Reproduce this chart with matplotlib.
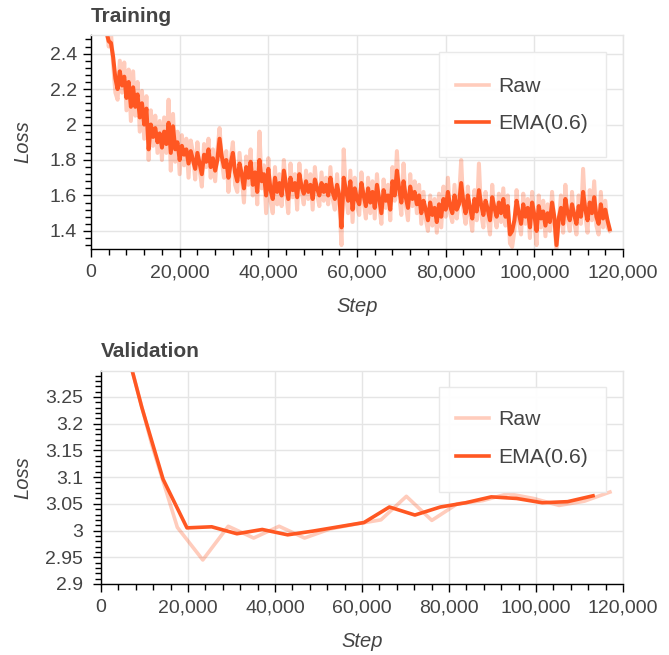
import numpy as np
import matplotlib
matplotlib.use("Agg")
import matplotlib.pyplot as plt
from matplotlib.patches import Rectangle
from matplotlib.ticker import MultipleLocator, FuncFormatter

plt.rcParams["font.family"] = ["Liberation Sans", "DejaVu Sans"]

# training loss, logged every 500 steps starting at step 3000
train_steps = np.arange(3000, 117001, 500)
train_raw = [
    2.62, 2.55, 2.44, 2.52, 2.34, 2.18, 2.14, 2.36, 2.18, 2.35, 2.08, 2.31, 2.02, 2.30, 2.05, 2.24, 1.96, 2.19, 1.92, 2.16,
    1.80, 2.08, 1.88, 2.05, 1.84, 2.02, 1.80, 2.04, 1.84, 2.14, 1.74, 2.06, 1.79, 1.96, 1.72, 1.94, 1.77, 1.92, 1.70, 1.91,
    1.84, 1.69, 1.90, 1.75, 1.65, 1.89, 1.76, 1.92, 1.70, 1.86, 1.68, 1.85, 1.98, 1.80, 1.70, 1.85, 1.62, 1.80, 1.90, 1.66,
    1.62, 1.84, 1.70, 1.56, 1.82, 1.66, 1.86, 1.60, 1.78, 1.55, 1.96, 1.64, 1.77, 1.50, 1.81, 1.57, 1.50, 1.76, 1.55, 1.72,
    1.54, 1.80, 1.62, 1.50, 1.78, 1.59, 1.72, 1.52, 1.78, 1.62, 1.55, 1.74, 1.58, 1.72, 1.52, 1.76, 1.61, 1.54, 1.73, 1.57,
    1.70, 1.55, 1.76, 1.58, 1.52, 1.72, 1.56, 1.32, 1.86, 1.60, 1.50, 1.74, 1.45, 1.70, 1.54, 1.49, 1.73, 1.57, 1.47, 1.70,
    1.50, 1.68, 1.47, 1.72, 1.55, 1.44, 1.69, 1.53, 1.66, 1.46, 1.76, 1.57, 1.85, 1.61, 1.49, 1.78, 1.55, 1.46, 1.72, 1.54,
    1.68, 1.50, 1.66, 1.44, 1.62, 1.47, 1.40, 1.60, 1.43, 1.58, 1.39, 1.61, 1.42, 1.65, 1.48, 1.70, 1.50, 1.45, 1.66, 1.47,
    1.58, 1.80, 1.52, 1.44, 1.65, 1.49, 1.40, 1.63, 1.46, 1.78, 1.50, 1.42, 1.62, 1.47, 1.38, 1.66, 1.49, 1.42, 1.61, 1.45,
    1.64, 1.43, 1.60, 1.33, 1.31, 1.40, 1.63, 1.46, 1.38, 1.61, 1.44, 1.58, 1.36, 1.62, 1.45, 1.32, 1.60, 1.42, 1.57, 1.37,
    1.55, 1.40, 1.62, 1.44, 1.30, 1.45, 1.60, 1.39, 1.66, 1.47, 1.40, 1.62, 1.45, 1.38, 1.60, 1.44, 1.75, 1.49, 1.39, 1.63,
    1.46, 1.68, 1.43, 1.38, 1.62, 1.42, 1.57, 1.42, 1.40,
]
train_ema = [
    2.58, 2.52, 2.47, 2.46, 2.38, 2.26, 2.20, 2.30, 2.22, 2.27, 2.15, 2.24, 2.10, 2.21, 2.10, 2.17, 2.04, 2.12, 2.00, 2.09,
    1.86, 2.00, 1.93, 1.98, 1.90, 1.95, 1.87, 1.96, 1.89, 2.01, 1.84, 1.99, 1.86, 1.90, 1.80, 1.88, 1.83, 1.86, 1.78, 1.85,
    1.80, 1.75, 1.84, 1.78, 1.72, 1.83, 1.79, 1.86, 1.76, 1.81, 1.74, 1.80, 1.92, 1.82, 1.76, 1.80, 1.70, 1.78, 1.84, 1.73,
    1.68, 1.78, 1.72, 1.64, 1.76, 1.70, 1.79, 1.66, 1.73, 1.62, 1.80, 1.68, 1.72, 1.60, 1.75, 1.63, 1.58, 1.70, 1.62, 1.67,
    1.60, 1.74, 1.66, 1.58, 1.70, 1.63, 1.67, 1.59, 1.72, 1.65, 1.61, 1.68, 1.62, 1.66, 1.58, 1.69, 1.64, 1.60, 1.67, 1.62,
    1.66, 1.60, 1.70, 1.62, 1.58, 1.66, 1.60, 1.42, 1.70, 1.63, 1.57, 1.68, 1.52, 1.64, 1.58, 1.55, 1.67, 1.60, 1.54, 1.64,
    1.56, 1.62, 1.53, 1.66, 1.58, 1.50, 1.63, 1.57, 1.60, 1.52, 1.68, 1.60, 1.74, 1.64, 1.56, 1.68, 1.59, 1.53, 1.65, 1.58,
    1.62, 1.55, 1.60, 1.50, 1.57, 1.52, 1.46, 1.56, 1.49, 1.53, 1.45, 1.55, 1.48, 1.58, 1.52, 1.62, 1.54, 1.50, 1.60, 1.52,
    1.55, 1.67, 1.56, 1.50, 1.60, 1.53, 1.47, 1.58, 1.51, 1.63, 1.55, 1.49, 1.57, 1.52, 1.46, 1.59, 1.53, 1.48, 1.56, 1.50,
    1.58, 1.48, 1.54, 1.38, 1.40, 1.46, 1.57, 1.50, 1.44, 1.55, 1.48, 1.53, 1.42, 1.56, 1.49, 1.40, 1.54, 1.47, 1.51, 1.43,
    1.50, 1.45, 1.56, 1.48, 1.32, 1.47, 1.53, 1.44, 1.58, 1.50, 1.46, 1.55, 1.49, 1.44, 1.54, 1.48, 1.62, 1.52, 1.46, 1.56,
    1.50, 1.59, 1.48, 1.44, 1.55, 1.47, 1.52, 1.46, 1.41,
]

# validation loss
val_steps = [5850, 11700, 17550, 23400, 29250, 35100, 40950, 46800, 52650, 58500,
             64350, 70200, 76050, 81900, 87750, 93600, 99450, 105300, 111150, 117000]
val_raw = [3.34, 3.16, 3.006, 2.945, 3.008, 2.986, 3.008, 2.986, 3.003, 3.012,
           3.020, 3.064, 3.019, 3.050, 3.056, 3.069, 3.060, 3.047, 3.055, 3.072]
val_ema_steps = [5850, 9360, 14270, 19760, 25450, 31240, 37070, 42910, 48760, 54610,
                 60460, 66300, 72160, 78010, 83860, 89710, 95560, 101410, 107260, 113110]
val_ema = [3.34, 3.231, 3.096, 3.005, 3.007, 2.994, 3.002, 2.992, 2.999, 3.007,
           3.015, 3.044, 3.029, 3.044, 3.052, 3.063, 3.060, 3.052, 3.054, 3.065]

ORANGE = "#FF5722"
TEXT = "#444444"
GRID = "#e5e5e5"
FIG_W, FIG_H = 669, 655

fig = plt.figure(figsize=(FIG_W / 100, FIG_H / 100), dpi=100)
# axes boxes in pixels: left, top, right, bottom
T_BOX = (91, 35, 623, 249)
V_BOX = (101, 370.7, 623, 584)


def add_axes_px(box):
    l, t, r, b = box
    return fig.add_axes([l / FIG_W, 1 - b / FIG_H, (r - l) / FIG_W, (b - t) / FIG_H])


ax_t = add_axes_px(T_BOX)
ax_v = add_axes_px(V_BOX)


def to_axes(box, x, y):
    l, t, r, b = box
    return (x - l) / (r - l), (b - y) / (b - t)


def style_axes(ax, box, title, ytick_pad, legend_frame, row_mid, row_gap):
    ax.set_xlim(0, 120000)
    ax.xaxis.set_major_locator(MultipleLocator(20000))
    ax.xaxis.set_minor_locator(MultipleLocator(4000))
    ax.xaxis.set_major_formatter(FuncFormatter(lambda v, p: f"{v:,.0f}"))
    ax.yaxis.set_major_formatter(FuncFormatter(lambda v, p: f"{round(v, 4):g}"))
    ax.grid(True, which="major", color=GRID, lw=1.0)
    ax.set_axisbelow(True)
    for side in ("top", "right"):
        ax.spines[side].set_color(GRID)
        ax.spines[side].set_linewidth(1.0)
    for side in ("left", "bottom"):
        ax.spines[side].set_color("black")
        ax.spines[side].set_linewidth(1.0)
    ax.tick_params(which="major", direction="out", length=6, width=1.0, color="black",
                   labelsize=14, labelcolor=TEXT)
    ax.tick_params(which="minor", direction="out", length=4, width=1.0, color="black")
    ax.tick_params(axis="x", which="major", pad=5)
    ax.tick_params(axis="y", which="major", pad=ytick_pad)
    ax.set_title(title, loc="left", fontsize=15, fontweight="bold", color=TEXT, pad=9.6)
    ax.set_xlabel("Step", fontsize=14.5, style="italic", color=TEXT)
    ax.set_ylabel("Loss", fontsize=14.5, style="italic", color=TEXT)

    # legend: box drawn separately so its padding can differ from the entry spacing
    fl, ft, fr, fb = legend_frame
    x0, y0 = to_axes(box, fl, fb)
    x1, y1 = to_axes(box, fr, ft)
    ax.add_patch(Rectangle((x0, y0), x1 - x0, y1 - y0, transform=ax.transAxes,
                           facecolor="white", alpha=0.95, edgecolor="#e8e8e8", lw=1.0,
                           zorder=4.9, clip_on=False))
    fs = 15.3
    ls = (row_gap - 20.0) / (fs * 100 / 72)
    anchor = to_axes(box, fl + 16.7, row_mid)
    leg = ax.legend(loc="center left", fontsize=fs, frameon=False, borderpad=0,
                    borderaxespad=0, handlelength=1.55, handletextpad=0.44,
                    labelspacing=ls, bbox_to_anchor=anchor, labelcolor=TEXT)
    for h in leg.legend_handles:
        h.set_linewidth(2.6)


ax_t.plot(train_steps, train_raw, color=ORANGE, alpha=0.3, lw=2.9, label="Raw")
ax_t.plot(train_steps, train_ema, color=ORANGE, lw=2.9, label="EMA(0.6)")
ax_t.set_ylim(1.298, 2.505)
ax_t.yaxis.set_major_locator(MultipleLocator(0.2))
ax_t.yaxis.set_minor_locator(MultipleLocator(0.04))
style_axes(ax_t, T_BOX, "Training", 4, (439.3, 51.7, 606, 156.7), 105, 38)
ax_t.yaxis.set_label_coords(-0.111, 0.5)
ax_t.xaxis.set_label_coords(0.5, -0.224)

ax_v.plot(val_steps, val_raw, color=ORANGE, alpha=0.3, lw=2.6, label="Raw")
ax_v.plot(val_ema_steps, val_ema, color=ORANGE, lw=2.6, label="EMA(0.6)")
ax_v.set_ylim(2.9, 3.299)
ax_v.yaxis.set_major_locator(MultipleLocator(0.05))
ax_v.yaxis.set_minor_locator(MultipleLocator(0.01))
style_axes(ax_v, V_BOX, "Validation", 7, (439.3, 386.7, 606, 492.3), 438.8, 39)
ax_v.yaxis.set_label_coords(-0.132, 0.5)
ax_v.xaxis.set_label_coords(0.5, -0.225)

fig.savefig("out.png", dpi=100)
